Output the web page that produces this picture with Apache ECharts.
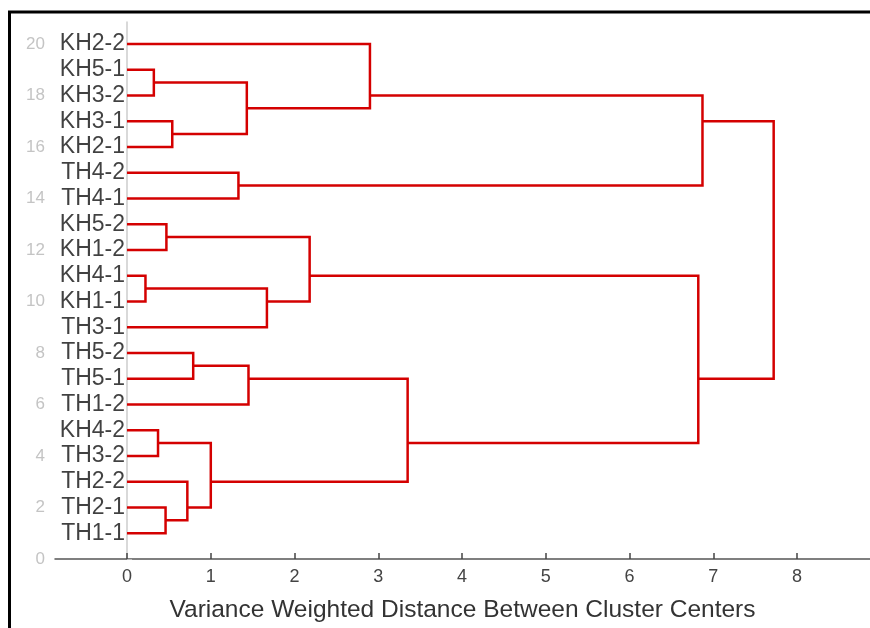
<!DOCTYPE html>
<html>
<head>
<meta charset="utf-8">
<script src="https://cdn.jsdelivr.net/npm/echarts@6/dist/echarts.min.js"></script>
<style>
html,body{margin:0;padding:0;background:#fff;}
#chart{width:870px;height:628px;}
</style>
</head>
<body>
<div id="chart"></div>
<script>
// Leaves, top to bottom (positions 20 .. 1)
const leafLabels = ['KH2-2','KH5-1','KH3-2','KH3-1','KH2-1','TH4-2','TH4-1','KH5-2','KH1-2','KH4-1','KH1-1','TH3-1','TH5-2','TH5-1','TH1-2','KH4-2','TH3-2','TH2-2','TH2-1','TH1-1'];
// Merges: [child A, child B, distance]; a child is a leaf label or index of an earlier merge
const mergeA = ['KH5-1','KH3-1',0,'KH2-2','TH4-2',3,'KH5-2','KH4-1',7,6,'TH5-2',10,'KH4-2','TH2-1','TH2-2',12,11,9,5];
const mergeB = ['KH3-2','KH2-1',1,2,'TH4-1',4,'KH1-2','KH1-1','TH3-1',8,'TH5-1','TH1-2','TH3-2','TH1-1',13,14,15,16,17];
const mergeDist = [0.32,0.54,1.43,2.90,1.33,6.87,0.47,0.22,1.67,2.18,0.79,1.45,0.37,0.46,0.72,1.00,3.35,6.82,7.72];
const xTicks = [0,1,2,3,4,5,6,7,8];
const yTicks = [0,2,4,6,8,10,12,14,16,18,20];
const xAxisTitle = 'Variance Weighted Distance Between Cluster Centers';

const nLeaves = leafLabels.length;
const leafPos = {};
leafLabels.forEach((l, i) => { leafPos[l] = nLeaves - i; });

const nodes = [];
function info(c) {
  if (typeof c === 'string') return {x: 0, y: leafPos[c], count: 1, sum: leafPos[c]};
  return nodes[c];
}
const segs = [];
for (let i = 0; i < mergeDist.length; i++) {
  const a = info(mergeA[i]), b = info(mergeB[i]), d = mergeDist[i];
  const count = a.count + b.count, sum = a.sum + b.sum;
  nodes.push({x: d, y: sum / count, count, sum});
  segs.push({coords: [[a.x, a.y], [d, a.y], [d, b.y], [b.x, b.y]]});
}

const chart = echarts.init(document.getElementById('chart'), null, {renderer: 'canvas'});
const FONT = 'Liberation Sans, Arial, sans-serif';
chart.setOption({
  animation: false,
  backgroundColor: '#fff',
  grid: {left: 55, right: 0, top: 22, bottom: 67, containLabel: false},
  xAxis: {
    type: 'value', min: -0.86, max: 8.87,
    name: xAxisTitle, nameLocation: 'middle', nameGap: 39,
    nameTextStyle: {fontFamily: FONT, fontSize: 24.5, color: '#333'},
    axisLine: {show: true, lineStyle: {color: '#555', width: 1.5}},
    axisTick: {show: true, inside: true, length: 6, customValues: xTicks, lineStyle: {color: '#444', width: 1.5}},
    axisLabel: {customValues: xTicks, fontFamily: FONT, fontSize: 18, color: '#444', margin: 9},
    splitLine: {show: false}
  },
  yAxis: {
    type: 'value', min: 0, max: 20.85,
    axisLine: {show: true, lineStyle: {color: '#ccc', width: 1.5}},
    axisTick: {show: true, inside: true, length: 5, customValues: yTicks, lineStyle: {color: '#bbb', width: 1}},
    axisLabel: {customValues: yTicks, fontFamily: FONT, fontSize: 17, color: '#c4c4c4', margin: 10},
    splitLine: {show: false}
  },
  series: [
    {
      type: 'lines', coordinateSystem: 'cartesian2d', polyline: true,
      lineStyle: {color: '#d40000', width: 2.5, opacity: 1},
      data: segs, z: 2
    },
    {
      type: 'scatter', symbolSize: 0,
      data: leafLabels.map(l => ({value: [0, leafPos[l]], name: l})),
      label: {show: true, position: 'left', distance: 2, formatter: p => p.name,
        fontFamily: FONT, fontSize: 23, color: '#111'},
      z: 3
    }
  ],
  graphic: [
    {type: 'line', shape: {x1: 8, y1: 12, x2: 870, y2: 12}, style: {stroke: '#000', lineWidth: 3}},
    {type: 'line', shape: {x1: 9.5, y1: 11, x2: 9.5, y2: 628}, style: {stroke: '#000', lineWidth: 3}}
  ]
});
</script>
</body>
</html>
